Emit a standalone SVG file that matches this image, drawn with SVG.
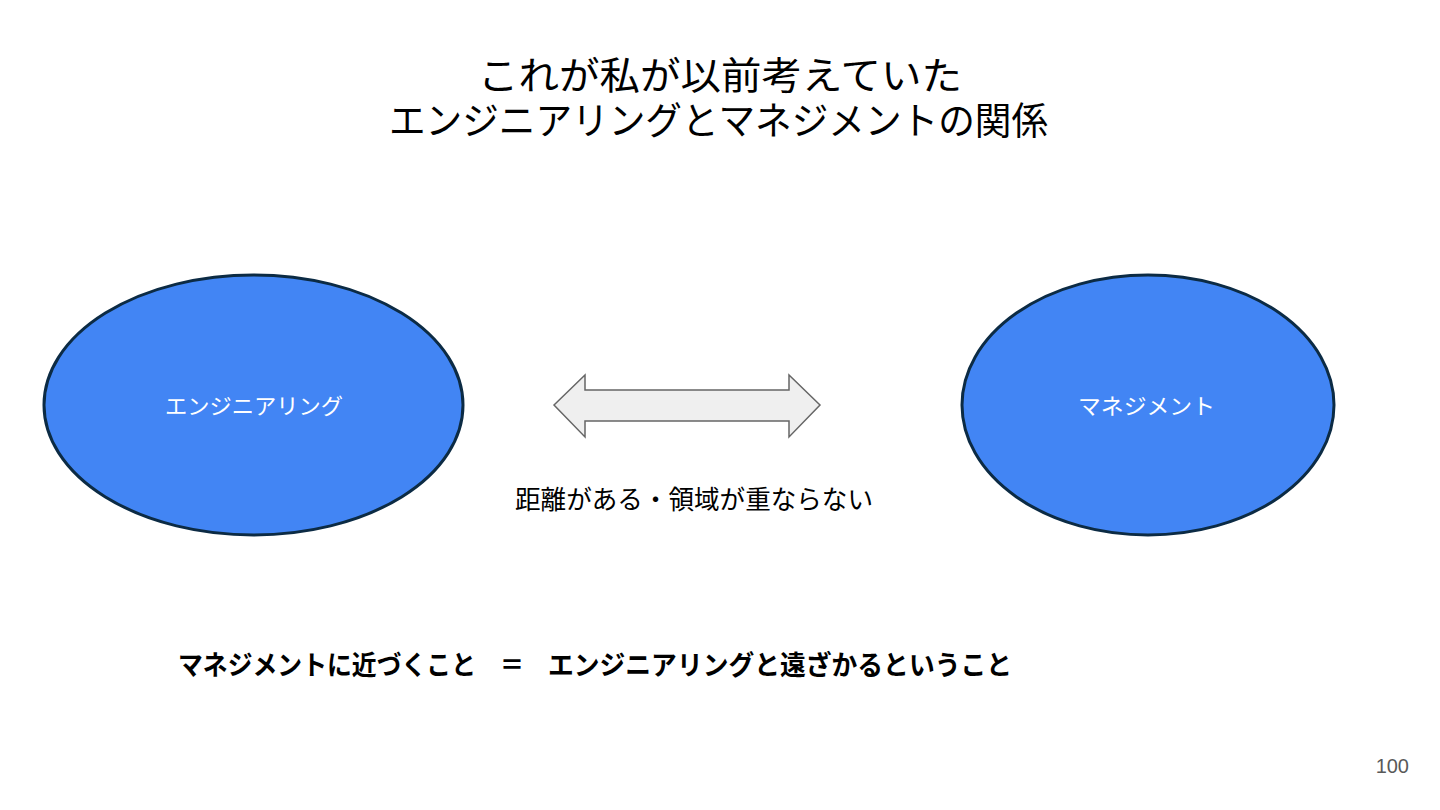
<svg xmlns="http://www.w3.org/2000/svg" width="1440" height="810" viewBox="0 0 1440 810">
<style>
.jp{font-family:"Noto Sans CJK JP","Noto Sans CJK SC",sans-serif}
.title{font-size:38px;fill:#000}
.node{fill:#4285f4;stroke:#0c2b44;stroke-width:3}
.lbl{font-size:22px;fill:#fff}
.mid{font-size:26px;fill:#000}
.bot{font-size:27px;font-weight:bold;fill:#000}
.arrow{fill:#efefef;stroke:#666;stroke-width:1.5;stroke-linejoin:miter}
</style>
<rect width="1440" height="810" fill="#fff"/>
<g id="title">
<text class="jp title" x="478" y="89" textLength="484" lengthAdjust="spacingAndGlyphs">これが私が以前考えていた</text>
<text class="jp title" x="389" y="134" textLength="659" lengthAdjust="spacingAndGlyphs">エンジニアリングとマネジメントの関係</text>
</g>
<g id="node-engineering">
<ellipse class="node" cx="253.5" cy="405" rx="209.5" ry="130"/>
<text class="jp lbl" x="165" y="414" textLength="178" lengthAdjust="spacingAndGlyphs">エンジニアリング</text>
</g>
<g id="node-management">
<ellipse class="node" cx="1148" cy="405" rx="186" ry="130"/>
<text class="jp lbl" x="1078" y="414" textLength="137" lengthAdjust="spacingAndGlyphs">マネジメント</text>
</g>
<g id="connectors">
<polygon class="arrow" points="554,405 585,375 585,390 789,390 789,375 820,405 789,437 789,421 585,421 585,437"/>
</g>
<g id="relation-label">
<text class="jp mid" x="515" y="509" textLength="358" lengthAdjust="spacingAndGlyphs">距離がある・領域が重ならない</text>
</g>
<g id="conclusion">
<text class="jp bot" x="178" y="675" textLength="298" lengthAdjust="spacingAndGlyphs">マネジメントに近づくこと</text>
<text class="jp bot" x="500" y="675" textLength="24" lengthAdjust="spacingAndGlyphs">＝</text>
<text class="jp bot" x="548" y="675" textLength="464" lengthAdjust="spacingAndGlyphs">エンジニアリングと遠ざかるということ</text>
</g>
<text id="page-number" x="1409" y="773" text-anchor="end" font-family="Liberation Sans, Arial, sans-serif" font-size="20" fill="#595959">100</text>
</svg>
